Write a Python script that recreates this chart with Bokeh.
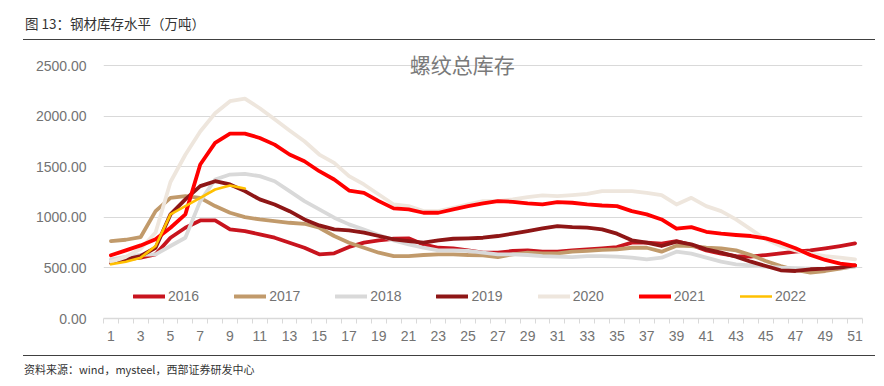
from bokeh.plotting import figure
from bokeh.models import (Range1d, FixedTicker, Legend, LegendItem, Label, Div)
from bokeh.layouts import column
from bokeh.embed import file_html
from bokeh.resources import INLINE

# ---------------- data ----------------
weeks = list(range(1, 52))
x_tick_values = list(range(1, 52, 2))
x_tick_labels = [str(v) for v in x_tick_values]
y_tick_values = [0, 500, 1000, 1500, 2000, 2500]
y_tick_labels = ["0.00", "500.00", "1000.00", "1500.00", "2000.00", "2500.00"]

s2016 = [552, 585, 602, 635, 799, 898, 970, 970, 881, 865, 832, 799, 750, 700, 635, 645, 707, 750, 773, 789,
         793, 733, 700, 694, 674, 651, 651, 668, 674, 661, 661, 674, 684, 694, 707, 750, 750, 740, 766, 727,
         674, 641, 618, 612, 628, 645, 661, 674, 694, 717, 743]
s2017 = [766, 779, 806, 1062, 1194, 1210, 1194, 1112, 1046, 1003, 980, 964, 947, 937, 898, 816, 750, 700, 651, 618,
         618, 628, 635, 635, 628, 625, 608, 635, 651, 645, 645, 661, 668, 678, 684, 700, 700, 661, 720, 717,
         700, 694, 674, 628, 569, 519, 480, 454, 470, 493, 519]
s2018 = [585, 610, 630, 635, 717, 799, 1161, 1375, 1424, 1431, 1408, 1358, 1260, 1161, 1079, 997, 931, 881, 826, 773,
         733, 700, 674, 674, 668, 651, 635, 635, 628, 618, 612, 608, 618, 618, 612, 602, 585, 602, 661, 641,
         602, 562, 536, 526, 513, 503, 497, 493, 493, 503, 513]
s2019 = [552, 585, 618, 700, 1030, 1178, 1309, 1358, 1326, 1260, 1178, 1128, 1062, 980, 921, 881, 872, 849, 816, 783,
         766, 750, 773, 789, 793, 799, 816, 839, 865, 891, 914, 904, 898, 881, 839, 773, 750, 717, 760, 733,
         684, 651, 612, 562, 519, 477, 470, 487, 493, 503, 526]
s2020 = [560, 610, 690, 850, 1350, 1620, 1850, 2030, 2150, 2175, 2080, 1970, 1860, 1753, 1622, 1539, 1408, 1326, 1227, 1128,
         1112, 1062, 1062, 1095, 1128, 1161, 1161, 1178, 1200, 1217, 1210, 1220, 1233, 1260, 1260, 1260, 1243, 1220, 1128, 1194,
         1112, 1062, 980, 881, 783, 717, 674, 641, 618, 602, 585]
s2021 = [625, 674, 723, 783, 898, 1030, 1523, 1737, 1829, 1829, 1786, 1720, 1622, 1556, 1457, 1375, 1266, 1243, 1161, 1089,
         1079, 1046, 1046, 1079, 1112, 1138, 1161, 1154, 1138, 1128, 1151, 1145, 1128, 1118, 1112, 1062, 1030, 980, 888, 904,
         858, 839, 826, 816, 793, 750, 694, 628, 579, 543, 526]
s2022 = [536, 562, 602, 717, 1030, 1112, 1194, 1276, 1316, 1286]

series_names = ["2016", "2017", "2018", "2019", "2020", "2021", "2022"]
series_values = [s2016, s2017, s2018, s2019, s2020, s2021, s2022]
series_colors = ["#C8141E", "#C19A6B", "#D9D9D9", "#8E1616", "#EEE6DD", "#FF0000", "#FFC000"]
series_widths = [3.8, 3.8, 3.8, 3.8, 3.8, 3.8, 2.6]

chart_title = "螺纹总库存"
header_text = "图 13：钢材库存水平（万吨）"
source_text = "资料来源：wind，mysteel，西部证券研发中心"

# ---------------- figure ----------------
p = figure(width=868, height=315, output_backend="svg", toolbar_location=None,
           x_range=Range1d(0.5, 51.5), y_range=Range1d(0, 2750),
           min_border_left=95, min_border_right=14, min_border_top=0, min_border_bottom=37,
           margin=0)
p.outline_line_color = None
p.background_fill_color = "white"
p.border_fill_color = "white"

renderers = []
for name, vals, col, w in zip(series_names, series_values, series_colors, series_widths):
    r = p.line(weeks[:len(vals)], vals, line_color=col, line_width=w, line_join="round", line_cap="round")
    renderers.append(r)

# x axis
xa = p.xaxis[0]
xa.ticker = FixedTicker(ticks=x_tick_values, minor_ticks=[k + 0.5 for k in range(0, 52)])
xa.major_label_overrides = {v: t for v, t in zip(x_tick_values, x_tick_labels)}
xa.major_tick_out = 0
xa.major_tick_in = 0
xa.minor_tick_out = 5
xa.minor_tick_in = 0
xa.minor_tick_line_color = "#D9D9D9"
xa.minor_tick_line_width = 1
xa.axis_line_color = "#D9D9D9"
xa.axis_line_width = 1.5
xa.major_label_standoff = 7
xa.major_label_text_font = "Liberation Sans"
xa.major_label_text_font_size = "14px"
xa.major_label_text_color = "#737373"

# y axis
ya = p.yaxis[0]
ya.ticker = FixedTicker(ticks=y_tick_values)
ya.major_label_overrides = {v: t for v, t in zip(y_tick_values, y_tick_labels)}
ya.axis_line_color = None
ya.major_tick_out = 0
ya.major_tick_in = 0
ya.minor_tick_out = 0
ya.minor_tick_in = 0
ya.major_label_standoff = 17
ya.major_label_text_font = "Liberation Sans"
ya.major_label_text_font_size = "14px"
ya.major_label_text_color = "#737373"

p.xgrid.grid_line_color = None
p.ygrid.ticker = FixedTicker(ticks=y_tick_values)
p.ygrid.grid_line_color = "#D9D9D9"
p.ygrid.grid_line_width = 1.2

legend = Legend(items=[LegendItem(label=n, renderers=[r]) for n, r in zip(series_names, renderers)],
                orientation="horizontal", location=(30, 14),
                glyph_width=32, glyph_height=14, label_standoff=3, spacing=35,
                padding=0, margin=0, border_line_color=None, background_fill_alpha=0,
                label_text_font="Liberation Sans", label_text_font_size="14px",
                label_text_color="#737373")
p.add_layout(legend)

p.add_layout(Label(x=24.6, y=2522, text=chart_title, text_align="center", text_baseline="middle",
                   text_font="Noto Sans CJK SC", text_font_size="21px", text_color="#7A7A7A"))

header = Div(text=header_text, width=852, height=32, margin=(0, 0, 0, 15),
             styles={"box-sizing": "border-box", "border-bottom": "1.5px solid #404040",
                     "line-height": "30px", "padding-left": "2px", "white-space": "nowrap",
                     "font-family": "'Noto Sans CJK SC'", "font-size": "13.5px", "color": "#333333"})
footer = Div(text=source_text, width=852, height=23, margin=(0, 0, 0, 15),
             styles={"box-sizing": "border-box", "border-top": "1.5px solid #404040",
                     "line-height": "20px", "padding-top": "3px", "padding-left": "1px", "white-space": "nowrap",
                     "font-family": "'Noto Sans CJK SC'", "font-size": "11px", "color": "#333333"})

layout = column(header, p, footer, spacing=0, margin=(8, 0, 0, 8))
open("out.html", "w").write(file_html(layout, INLINE))
